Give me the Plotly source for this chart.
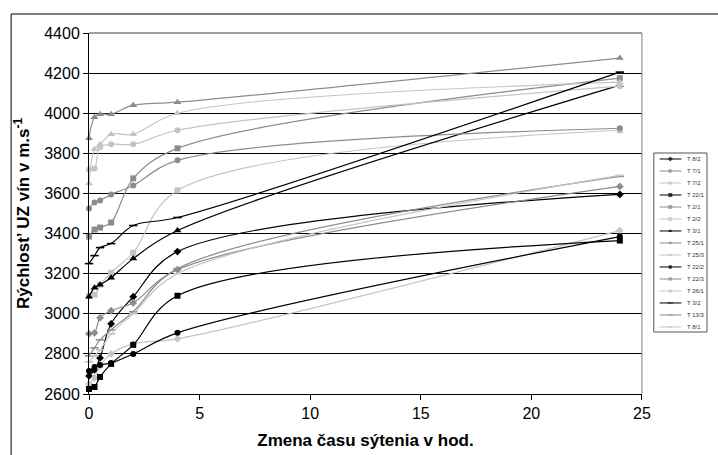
import plotly.graph_objects as go

# ---------------- data ----------------
hours = [0, 0.25, 0.5, 1, 2, 4, 24]

series_names = ["T 8/2", "T 7/1", "T 7/2", "T 22/1", "T 2/1", "T 2/2", "T 3/1",
                "T 25/1", "T 25/3", "T 22/2", "T 22/3", "T 26/1", "T 3/2", "T 13/3", "T 8/1"]

t8_2 = [2690, 2720, 2780, 2950, 3085, 3310, 3595]
t7_1 = [2900, 2905, 2980, 3015, 3055, 3220, 3635]
t7_2 = [2650, 2680, 2740, 2800, 2850, 2875, 3415]
t22_1 = [2625, 2635, 2685, 2750, 2845, 3090, 3365]
t2_1 = [3385, 3420, 3430, 3455, 3675, 3825, 4175]
t2_2 = [3090, 3095, 3145, 3205, 3305, 3615, 3915]
t3_1 = [3085, 3130, 3145, 3180, 3275, 3415, 4140]
t25_1 = [3875, 3980, 3995, 3995, 4040, 4055, 4275]
t25_3 = [3650, 3820, 3845, 3895, 3895, 4000, 4155]
t22_2 = [2715, 2735, 2745, 2755, 2800, 2905, 3385]
t22_3 = [3525, 3555, 3565, 3595, 3640, 3765, 3925]
t26_1 = [3720, 3725, 3830, 3845, 3845, 3915, 4135]
t3_2 = [3250, 3290, 3330, 3350, 3440, 3480, 4205]
t13_3 = [2790, 2830, 2870, 2920, 3010, 3225, 3685]
t8_1 = [2760, 2790, 2820, 2900, 3000, 3200, 3690]

series_values = [t8_2, t7_1, t7_2, t22_1, t2_1, t2_2, t3_1,
                 t25_1, t25_3, t22_2, t22_3, t26_1, t3_2, t13_3, t8_1]

x_ticks = [0, 5, 10, 15, 20, 25]
y_ticks = [2600, 2800, 3000, 3200, 3400, 3600, 3800, 4000, 4200, 4400]

# ---------------- styles ----------------
BLACK, GRAY, LIGHT = "#000000", "#8c8c8c", "#c4c4c4"
shades = [BLACK, GRAY, LIGHT]
symbols = ["diamond", "square", "triangle-up", "circle", "line-ew"]
sizes = {"diamond": 6, "square": 6, "triangle-up": 7, "circle": 6, "line-ew": 6}

FONT = "Liberation Sans, Arial, Helvetica, sans-serif"

fig = go.Figure()

for i, (name, vals) in enumerate(zip(series_names, series_values)):
    col = shades[i % 3]
    sym = symbols[i // 3]
    marker = dict(symbol=sym, size=sizes[sym], color=col,
                  line=dict(color=col, width=1.6 if sym == "line-ew" else 0))
    fig.add_trace(go.Scatter(
        x=hours, y=vals, name=name, mode="lines+markers",
        line=dict(color=col, width=1.2, shape="spline", smoothing=1.0),
        marker=marker, cliponaxis=False, showlegend=False,
        xaxis="x", yaxis="y"))

# ---- custom compact legend (sample line + marker + label), drawn on its own small axes ----
LEG_X = [0.11, 0.31, 0.52]
for i, name in enumerate(series_names):
    col = shades[i % 3]
    sym = symbols[i // 3]
    fig.add_trace(go.Scatter(
        x=LEG_X, y=[i, i, i], mode="lines+markers",
        line=dict(color=col, width=1.0),
        marker=dict(symbol=sym, size=[0, 4, 0], color=col,
                    line=dict(color=col, width=1.2 if sym == "line-ew" else 0)),
        showlegend=False, hoverinfo="skip", cliponaxis=False,
        xaxis="x2", yaxis="y2"))
    fig.add_annotation(x=0.58, y=i, xref="x2", yref="y2", text=name,
                       showarrow=False, xanchor="left", yanchor="middle",
                       font=dict(family=FONT, size=6, color="#333333"))

W, H = 718, 455
ML, MR, MT, MB = 89, 2, 33, 61
plot_w = W - ML - MR
plot_h = H - MT - MB
main_right = 650

fig.update_layout(
    width=W, height=H,
    margin=dict(l=ML, r=MR, t=MT, b=MB, pad=0),
    paper_bgcolor="white", plot_bgcolor="white",
    font=dict(family=FONT, color="#000000"),
    xaxis=dict(domain=[0, (main_right - ML) / plot_w], range=[0, 25],
               tickvals=x_ticks, showgrid=False, zeroline=False,
               showline=True, linecolor="#000000", linewidth=1,
               ticks="outside", ticklen=5, tickcolor="#000000",
               tickfont=dict(size=16, family=FONT, color="#000000"),
               title=dict(text="Zmena času sýtenia v hod.", standoff=12,
                          font=dict(size=17, family=FONT, color="#000000", weight="bold"))),
    yaxis=dict(domain=[0, 1], range=[2600, 4400], tickvals=y_ticks,
               showgrid=True, gridcolor="#000000", gridwidth=1, zeroline=False,
               showline=True, linecolor="#000000", linewidth=1,
               ticks="outside", ticklen=5, tickcolor="#000000",
               tickfont=dict(size=16, family=FONT, color="#000000"),
               title=dict(text="Rýchlost’ UZ vín v m.s<sup>-1</sup>", standoff=10,
                          font=dict(size=17, family=FONT, color="#000000", weight="bold"))),
    xaxis2=dict(domain=[(662 - ML) / plot_w, 1.0], range=[0, 1], visible=False,
                anchor="y2"),
    yaxis2=dict(domain=[(MT + plot_h - 332) / plot_h, (MT + plot_h - 153) / plot_h],
                range=[14.42, -0.5], visible=False, anchor="x2"),
    shapes=[
        # outer chart frame
        dict(type="rect", xref="paper", yref="paper",
             x0=(10 - ML) / plot_w, x1=1.2, y0=-0.4, y1=(MT + plot_h - 14) / plot_h,
             line=dict(color="#000000", width=1), layer="below"),
        # plot area top and right borders (grey)
        dict(type="line", xref="x domain", yref="y domain", x0=0, x1=1, y0=1, y1=1,
             line=dict(color="#808080", width=1.5), layer="above"),
        dict(type="line", xref="x domain", yref="y domain", x0=1, x1=1, y0=0, y1=1,
             line=dict(color="#808080", width=1), layer="above"),
        # legend box
        dict(type="rect", xref="x2 domain", yref="y2 domain", x0=0, x1=1, y0=0, y1=1,
             line=dict(color="#555555", width=1), fillcolor="white", layer="below"),
    ],
)

fig.write_html("out.html", config={"displayModeBar": False},
               post_script="document.body.style.margin='0px';document.body.style.overflow='hidden';")
